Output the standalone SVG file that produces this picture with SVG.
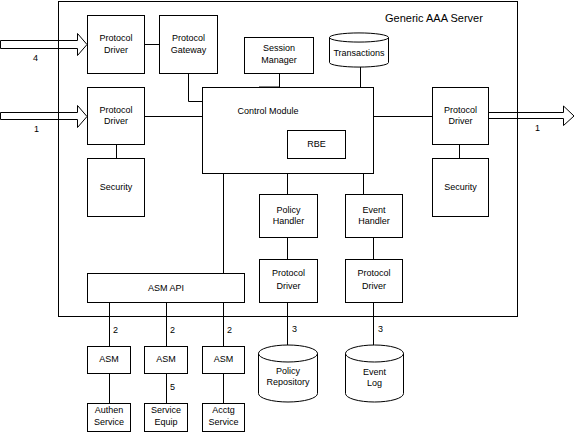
<svg xmlns="http://www.w3.org/2000/svg" width="575" height="432" viewBox="0 0 575 432">
<style>
.b{fill:#fff;stroke:#000;stroke-width:1}
.l{fill:none;stroke:#000;stroke-width:1}
text{font-family:"Liberation Sans",Arial,sans-serif;font-size:9px;fill:#000}
.c{text-anchor:middle}
</style>
<rect width="575" height="432" fill="#fff"/>
<g id="server"><rect class="l" x="58.5" y="1.5" width="459" height="315"/><text x="385" y="22" style="font-size:11px">Generic AAA Server</text></g>
<g id="connectors">
<path class="l" d="M144 44.5H159 M188.5 73V101.5H202 M144 116.5H202 M373 116.5H432 M116.5 144V158 M459.5 144V158 M279.5 73V87 M360.5 67V87 M287.5 173V194 M363.5 173V194 M287.5 237V259 M373.5 237V259 M223.5 173V273 M109.5 302V346 M166.5 302V346 M223.5 302V346 M109.5 373V403 M166.5 373V403 M223.5 373V403 M287.5 302V345 M373.5 302V345"/>
<line x1="259" y1="87.5" x2="280" y2="87.5" stroke="#000" stroke-width="2"/>
<path class="l" d="M0.5 40.5H77.5V33.5L87 44.5L77.5 55.5V48.5H0.5Z"/>
<path class="l" d="M0.5 112.5H77.5V105.5L87 116.5L77.5 127.5V119.5H0.5Z"/>
<path class="l" d="M488 112.5H563.5V106L574 116L563.5 125.5V118.5H488Z"/>
<text x="33" y="61">4</text><text x="34" y="132">1</text><text x="535" y="131">1</text>
<text x="113" y="333">2</text><text x="170" y="333">2</text><text x="227" y="333">2</text>
<text x="170" y="390">5</text><text x="292" y="332">3</text><text x="378" y="332">3</text>
</g>
<g id="pd1"><rect class="b" x="87.5" y="15.5" width="57" height="58"/><text class="c" x="116" y="41">Protocol</text><text class="c" x="116" y="53">Driver</text></g>
<g id="gateway"><rect class="b" x="159.5" y="15.5" width="58" height="58"/><text class="c" x="188.5" y="41">Protocol</text><text class="c" x="188.5" y="53">Gateway</text></g>
<g id="pd2"><rect class="b" x="87.5" y="87.5" width="57" height="57"/><text class="c" x="116" y="113">Protocol</text><text class="c" x="116" y="124">Driver</text></g>
<g id="sec1"><rect class="b" x="87.5" y="158.5" width="57" height="58"/><text class="c" x="116" y="190">Security</text></g>
<g id="pd3"><rect class="b" x="432.5" y="87.5" width="56" height="57"/><text class="c" x="460.5" y="113">Protocol</text><text class="c" x="460.5" y="124">Driver</text></g>
<g id="sec2"><rect class="b" x="432.5" y="158.5" width="56" height="58"/><text class="c" x="460.5" y="190">Security</text></g>
<g id="session"><rect class="b" x="244.5" y="37.5" width="69" height="36"/><text class="c" x="279" y="51">Session</text><text class="c" x="279" y="63">Manager</text></g>
<g id="transactions"><path class="b" d="M329.5 37.5A29 4.5 0 0 1 388.5 37.5V62.5A29 4.5 0 0 1 329.5 62.5Z"/><path class="l" d="M329.5 37.5A29 4.5 0 0 0 388.5 37.5"/><text class="c" x="359" y="56">Transactions</text></g>
<g id="control"><rect class="b" x="202.5" y="87.5" width="171" height="86"/><text class="c" x="268" y="114">Control Module</text></g>
<g id="rbe"><rect class="b" x="287.5" y="130.5" width="58" height="28"/><text class="c" x="316.5" y="147">RBE</text></g>
<g id="policyh"><rect class="b" x="259.5" y="194.5" width="58" height="43"/><text class="c" x="288.5" y="213">Policy</text><text class="c" x="288.5" y="224">Handler</text></g>
<g id="eventh"><rect class="b" x="345.5" y="194.5" width="57" height="43"/><text class="c" x="374" y="213">Event</text><text class="c" x="374" y="224">Handler</text></g>
<g id="pd4"><rect class="b" x="259.5" y="259.5" width="58" height="43"/><text class="c" x="288.5" y="276">Protocol</text><text class="c" x="288.5" y="289">Driver</text></g>
<g id="pd5"><rect class="b" x="345.5" y="259.5" width="57" height="43"/><text class="c" x="374" y="276">Protocol</text><text class="c" x="374" y="289">Driver</text></g>
<g id="asmapi"><rect class="b" x="87.5" y="273.5" width="157" height="29"/><text class="c" x="166" y="291">ASM API</text></g>
<g id="asm1"><rect class="b" x="87.5" y="346.5" width="43" height="27"/><text class="c" x="109" y="362">ASM</text></g>
<g id="asm2"><rect class="b" x="144.5" y="346.5" width="43" height="27"/><text class="c" x="166" y="362">ASM</text></g>
<g id="asm3"><rect class="b" x="202.5" y="346.5" width="42" height="27"/><text class="c" x="223.5" y="362">ASM</text></g>
<g id="authen"><rect class="b" x="87.5" y="403.5" width="43" height="28"/><text class="c" x="109" y="413">Authen</text><text class="c" x="109" y="425">Service</text></g>
<g id="equip"><rect class="b" x="144.5" y="403.5" width="43" height="28"/><text class="c" x="166" y="413">Service</text><text class="c" x="166" y="425">Equip</text></g>
<g id="acctg"><rect class="b" x="202.5" y="403.5" width="42" height="28"/><text class="c" x="223.5" y="413">Acctg</text><text class="c" x="223.5" y="425">Service</text></g>
<g id="policyrepo"><path class="b" d="M258.5 353.5A29.5 8.5 0 0 1 317.5 353.5V393.5A29.5 8.5 0 0 1 258.5 393.5Z"/><path class="l" d="M258.5 353.5A29.5 8.5 0 0 0 317.5 353.5"/><text class="c" x="288" y="374">Policy</text><text class="c" x="288" y="385">Repository</text></g>
<g id="eventlog"><path class="b" d="M345.5 353.5A29 8.5 0 0 1 403.5 353.5V393.5A29 8.5 0 0 1 345.5 393.5Z"/><path class="l" d="M345.5 353.5A29 8.5 0 0 0 403.5 353.5"/><text class="c" x="374.5" y="375">Event</text><text class="c" x="374.5" y="386">Log</text></g>
</svg>
